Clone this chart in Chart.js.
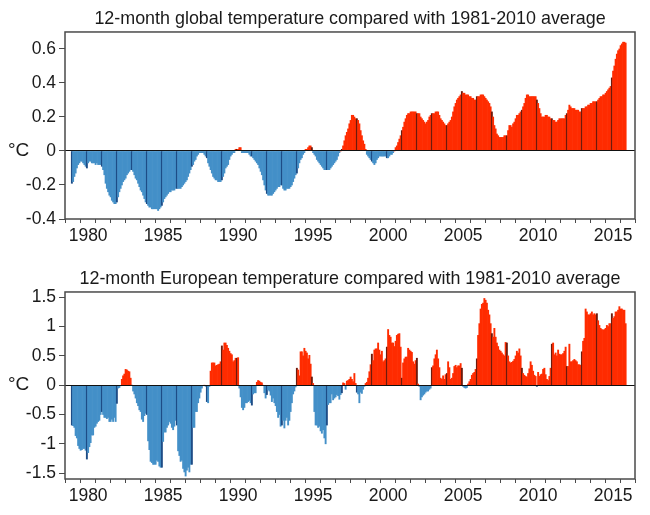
<!DOCTYPE html>
<html>
<head>
<meta charset="utf-8">
<title>12-month temperature</title>
<script src="https://cdn.jsdelivr.net/npm/chart.js@4"></script>
<style>
  html, body { margin: 0; padding: 0; background: #fff; overflow: hidden; }
  canvas { position: absolute; left: 0; }
  #globalChart { top: 0; }
  #europeChart { top: 260px; }
</style>
</head>
<body>
<canvas id="globalChart" width="650" height="260"></canvas>
<canvas id="europeChart" width="650" height="255"></canvas>
<script>
// --- DATA ---
const globalTitle = "12-month global temperature compared with 1981-2010 average";
const europeTitle = "12-month European temperature compared with 1981-2010 average";
const unitLabel = "°C";

const years = [1979,1980,1981,1982,1983,1984,1985,1986,1987,1988,1989,1990,1991,1992,1993,1994,1995,1996,1997,
  1998,1999,2000,2001,2002,2003,2004,2005,2006,2007,2008,2009,2010,2011,2012,2013,2014,2015,2016];
const labelledYears = [1980,1985,1990,1995,2000,2005,2010,2015];
const globalTicks = [-0.4,-0.2,0,0.2,0.4,0.6];
const europeTicks = [-1.5,-1,-0.5,0,0.5,1,1.5];

// monthly values, one line per twelve months
const globalValues = [
  -0.19,-0.18,-0.15,-0.13,-0.10,-0.08,-0.07,-0.06,-0.06,-0.07,-0.08,-0.09,
  -0.10,-0.07,-0.06,-0.06,-0.07,-0.07,-0.07,-0.08,-0.07,-0.08,-0.08,-0.08,
  -0.09,-0.11,-0.14,-0.19,-0.22,-0.24,-0.26,-0.27,-0.29,-0.30,-0.31,-0.31,
  -0.30,-0.27,-0.24,-0.22,-0.20,-0.18,-0.17,-0.16,-0.14,-0.13,-0.12,-0.11,
  -0.11,-0.12,-0.14,-0.16,-0.17,-0.19,-0.21,-0.23,-0.24,-0.26,-0.28,-0.30,
  -0.31,-0.32,-0.33,-0.33,-0.34,-0.34,-0.34,-0.34,-0.34,-0.35,-0.34,-0.33,
  -0.32,-0.30,-0.28,-0.27,-0.26,-0.25,-0.24,-0.24,-0.23,-0.23,-0.23,-0.22,
  -0.22,-0.22,-0.22,-0.22,-0.21,-0.20,-0.19,-0.18,-0.17,-0.15,-0.13,-0.11,
  -0.09,-0.08,-0.06,-0.05,-0.03,-0.02,-0.01,-0.01,-0.01,-0.01,-0.02,-0.03,
  -0.04,-0.07,-0.09,-0.11,-0.13,-0.15,-0.16,-0.17,-0.17,-0.18,-0.18,-0.18,
  -0.17,-0.15,-0.13,-0.10,-0.09,-0.08,-0.05,-0.03,-0.02,-0.01,-0.01,0.01,
  0.01,0.01,0.02,0.02,-0.01,-0.01,-0.01,-0.01,-0.01,-0.01,-0.02,-0.03,
  -0.03,-0.04,-0.05,-0.06,-0.07,-0.08,-0.10,-0.12,-0.14,-0.17,-0.20,-0.23,
  -0.25,-0.26,-0.26,-0.26,-0.26,-0.25,-0.24,-0.23,-0.22,-0.21,-0.21,-0.20,
  -0.20,-0.22,-0.23,-0.23,-0.22,-0.22,-0.22,-0.21,-0.20,-0.18,-0.16,-0.14,
  -0.13,-0.10,-0.07,-0.05,-0.04,-0.02,-0.01,0.01,0.01,0.02,0.03,0.03,
  0.02,-0.01,-0.02,-0.03,-0.05,-0.06,-0.07,-0.08,-0.09,-0.10,-0.11,-0.11,
  -0.11,-0.11,-0.11,-0.10,-0.09,-0.08,-0.07,-0.06,-0.05,-0.03,-0.01,0.00,
  0.01,0.03,0.06,0.09,0.11,0.13,0.16,0.18,0.21,0.21,0.20,0.19,
  0.19,0.18,0.16,0.12,0.09,0.06,0.04,0.01,-0.02,-0.03,-0.04,-0.05,
  -0.06,-0.07,-0.08,-0.07,-0.05,-0.04,-0.03,-0.03,-0.03,-0.03,-0.03,-0.03,
  -0.04,-0.04,-0.03,-0.02,-0.02,-0.01,0.00,0.02,0.03,0.05,0.07,0.09,
  0.12,0.14,0.17,0.19,0.21,0.22,0.22,0.23,0.23,0.23,0.23,0.23,
  0.22,0.22,0.22,0.20,0.19,0.18,0.17,0.16,0.17,0.18,0.20,0.21,
  0.22,0.22,0.22,0.23,0.23,0.23,0.21,0.19,0.18,0.17,0.16,0.15,
  0.15,0.16,0.17,0.18,0.20,0.23,0.26,0.28,0.30,0.31,0.32,0.33,
  0.35,0.34,0.34,0.33,0.33,0.33,0.32,0.32,0.31,0.31,0.30,0.30,
  0.32,0.32,0.32,0.33,0.33,0.33,0.32,0.31,0.30,0.29,0.28,0.26,
  0.23,0.20,0.15,0.13,0.10,0.09,0.08,0.08,0.08,0.08,0.09,0.09,
  0.09,0.12,0.15,0.15,0.14,0.16,0.17,0.19,0.21,0.21,0.22,0.23,
  0.24,0.26,0.28,0.31,0.33,0.33,0.32,0.32,0.32,0.32,0.32,0.32,
  0.30,0.28,0.25,0.22,0.20,0.20,0.20,0.21,0.21,0.20,0.20,0.19,
  0.19,0.18,0.18,0.17,0.17,0.18,0.19,0.19,0.19,0.19,0.19,0.21,
  0.22,0.24,0.27,0.26,0.25,0.25,0.25,0.24,0.24,0.24,0.23,0.23,
  0.25,0.25,0.25,0.26,0.26,0.27,0.27,0.28,0.28,0.29,0.29,0.29,
  0.29,0.30,0.31,0.32,0.32,0.33,0.33,0.34,0.35,0.36,0.37,0.38,
  0.43,0.47,0.50,0.54,0.57,0.59,0.60,0.62,0.63,0.64,0.64,0.635
];

const europeValues = [
  -0.68,-0.69,-0.72,-0.86,-0.90,-1.03,-1.08,-1.11,-1.10,-1.08,-1.08,-1.11,
  -1.26,-1.15,-1.05,-0.98,-0.85,-0.85,-0.72,-0.70,-0.65,-0.62,-0.60,-0.50,
  -0.45,-0.50,-0.55,-0.55,-0.57,-0.55,-0.62,-0.62,-0.58,-0.62,-0.55,-0.62,
  -0.31,-0.05,-0.04,-0.01,0.10,0.16,0.19,0.27,0.26,0.24,0.23,0.12,
  0.00,-0.10,-0.15,-0.22,-0.30,-0.35,-0.42,-0.45,-0.58,-0.62,-0.52,-0.48,
  -0.50,-0.95,-1.10,-1.30,-1.32,-1.35,-1.35,-1.35,-1.28,-1.30,-1.38,-1.40,
  -1.40,-0.96,-0.80,-0.80,-0.72,-0.68,-0.62,-0.65,-0.72,-0.76,-0.70,-0.60,
  -0.68,-1.12,-1.20,-1.30,-1.28,-1.42,-1.48,-1.55,-1.45,-1.40,-1.48,-1.35,
  -1.35,-0.72,-0.72,-0.45,-0.45,-0.30,-0.22,-0.12,-0.05,-0.01,0.00,-0.02,
  -0.28,-0.30,-0.02,0.24,0.38,0.38,0.38,0.33,0.34,0.35,0.36,0.40,
  0.67,0.60,0.72,0.72,0.68,0.63,0.58,0.54,0.52,0.40,0.42,0.46,
  0.46,0.47,-0.05,-0.20,-0.38,-0.42,-0.38,-0.30,-0.30,-0.28,-0.26,-0.30,
  -0.34,-0.15,-0.13,-0.13,0.05,0.08,0.07,0.05,0.04,0.00,-0.13,-0.22,
  -0.16,-0.08,-0.10,-0.17,-0.28,-0.22,-0.30,-0.35,-0.45,-0.55,-0.50,-0.70,
  -0.68,-0.60,-0.73,-0.60,-0.55,-0.68,-0.60,-0.45,-0.30,-0.15,-0.10,-0.03,
  0.29,0.26,0.16,0.57,0.57,0.50,0.63,0.58,0.55,0.45,0.51,0.36,
  0.14,0.03,-0.45,-0.68,-0.68,-0.72,-0.70,-0.78,-0.82,-0.76,-0.90,-1.00,
  -0.68,-0.33,-0.30,-0.30,-0.15,-0.25,-0.22,-0.20,-0.16,-0.18,-0.24,-0.16,
  -0.13,0.04,0.03,-0.07,0.07,0.08,0.10,0.14,0.10,0.06,0.20,0.03,
  -0.12,-0.15,-0.30,-0.12,-0.14,-0.07,-0.02,0.03,0.05,0.12,0.23,0.35,
  0.53,0.42,0.60,0.62,0.62,0.72,0.60,0.52,0.58,0.40,0.42,0.45,
  0.65,0.95,0.85,0.82,0.72,0.72,0.66,0.75,0.85,0.87,0.88,0.65,
  0.12,0.38,0.45,0.48,0.48,0.63,0.60,0.58,0.56,0.40,0.36,0.42,
  0.46,0.02,-0.02,-0.25,-0.20,-0.17,-0.15,-0.12,-0.10,-0.10,-0.07,-0.05,
  0.30,0.33,0.45,0.52,0.60,0.45,0.30,0.12,0.10,0.16,0.10,0.18,
  0.20,0.40,0.30,0.10,0.12,0.20,0.32,0.34,0.30,0.33,0.33,0.37,
  0.29,-0.02,-0.04,-0.05,-0.04,0.02,0.06,0.10,0.17,0.20,0.22,0.27,
  0.45,0.85,1.05,1.30,1.38,1.40,1.48,1.45,1.40,1.28,1.20,1.05,
  0.88,0.82,0.97,0.82,0.72,0.66,0.60,0.58,0.55,0.52,0.50,0.73,
  0.72,0.50,0.40,0.38,0.39,0.41,0.44,0.50,0.58,0.55,0.62,0.50,
  0.29,0.20,0.17,0.15,0.14,0.20,0.28,0.40,0.34,0.24,0.17,0.15,
  -0.02,0.22,0.15,0.18,0.19,0.27,0.29,0.18,0.10,0.08,0.15,0.29,
  0.70,0.72,0.52,0.55,0.50,0.60,0.53,0.52,0.52,0.54,0.58,0.65,
  0.32,0.32,0.70,0.40,0.40,0.42,0.44,0.42,0.40,0.35,0.35,0.34,
  0.57,0.75,0.80,1.30,1.25,1.20,1.20,1.22,1.25,1.20,1.22,1.20,
  1.22,1.10,1.02,0.97,0.95,0.94,0.95,0.97,1.02,1.00,1.05,1.05,
  1.22,1.14,1.17,1.25,1.25,1.28,1.34,1.30,1.30,1.28,1.28,1.05
];

// --- CHART SETUP ---
const FONT = '"Liberation Sans", Arial, sans-serif';
const INK = '#1a1a1a';
const FRAME = '#4a4a4a';
const MONTHS_BEFORE = 5;   // axis starts this many months before the first bar
const MONTHS_AFTER = 7;

const months = [];
years.forEach(y => { for (let m = 0; m < 12; m++) months.push(y + '-' + (m + 1)); });

function pad(values) {
  return [...Array(MONTHS_BEFORE).fill(null), ...values, ...Array(MONTHS_AFTER).fill(null)];
}

function barColor(ctx) {
  const v = ctx.raw;
  const darkBar = ctx.dataIndex % 12 === MONTHS_BEFORE;
  if (v >= 0) return darkBar ? '#6e1a0c' : '#ff2c00';
  return darkBar ? '#1d4c86' : '#4490c8';
}

// frame around the plot + the unit label beside zero
const extrasPlugin = {
  id: 'extras',
  afterDraw(chart) {
    const { ctx, chartArea: a, scales } = chart;
    ctx.save();
    ctx.strokeStyle = FRAME;
    ctx.lineWidth = 1.5;
    ctx.strokeRect(a.left, a.top, a.right - a.left, a.bottom - a.top);
    ctx.fillStyle = INK;
    ctx.font = '19px ' + FONT;
    ctx.textBaseline = 'middle';
    ctx.fillText(unitLabel, 8, scales.y.getPixelForValue(0));
    ctx.restore();
  }
};

function makeChart(canvasId, title, values, yMin, yMax, yTicks) {
  const canvasHeight = document.getElementById(canvasId).height;
  return new Chart(document.getElementById(canvasId), {
    type: 'bar',
    data: {
      labels: months,
      datasets: [{ data: pad(values), backgroundColor: barColor, borderWidth: 0,
        barPercentage: 1, categoryPercentage: 1 }]
    },
    plugins: [extrasPlugin],
    options: {
      responsive: false,
      animation: false,
      layout: { padding: { left: 0, right: 15, top: 0, bottom: 0 } },
      plugins: {
        legend: { display: false },
        tooltip: { enabled: false },
        title: {
          display: true, text: title, color: INK, fullSize: false,
          font: { family: FONT, size: 17.9, weight: 'normal' },
          padding: { top: 8.4, bottom: 2.1 }
        }
      },
      scales: {
        x: {
          border: { display: false },
          grid: {
            offset: true, drawOnChartArea: false, tickLength: 4, lineWidth: 1,
            tickColor: c => (c.index === undefined || c.index % 12 === 0) ? FRAME : 'rgba(0,0,0,0)'
          },
          ticks: {
            autoSkip: false, maxRotation: 0, minRotation: 0, padding: 3, color: INK,
            font: { family: FONT, size: 17.5 },
            callback: (v, i) => {
              if (i % 12 !== 6) return '';
              const y = years[i / 12 | 0];
              return labelledYears.includes(y) ? String(y) : '';
            }
          },
          afterFit: s => { s.height = canvasHeight - 219; }
        },
        y: {
          min: yMin, max: yMax,
          border: { display: false },
          grid: {
            z: 1, lineWidth: 1, tickLength: 6, tickColor: FRAME,
            color: c => (c.tick && c.tick.value === 0) ? '#111' : 'rgba(0,0,0,0)'
          },
          ticks: { padding: 3, color: INK, font: { family: FONT, size: 17.5 }, callback: v => String(v) },
          afterBuildTicks: s => { s.ticks = yTicks.map(v => ({ value: v })); },
          afterFit: s => { s.width = 65; }
        }
      }
    }
  });
}

makeChart('globalChart', globalTitle, globalValues, -0.4, 0.7, globalTicks);
makeChart('europeChart', europeTitle, europeValues, -1.6, 1.59, europeTicks);
</script>
</body>
</html>
